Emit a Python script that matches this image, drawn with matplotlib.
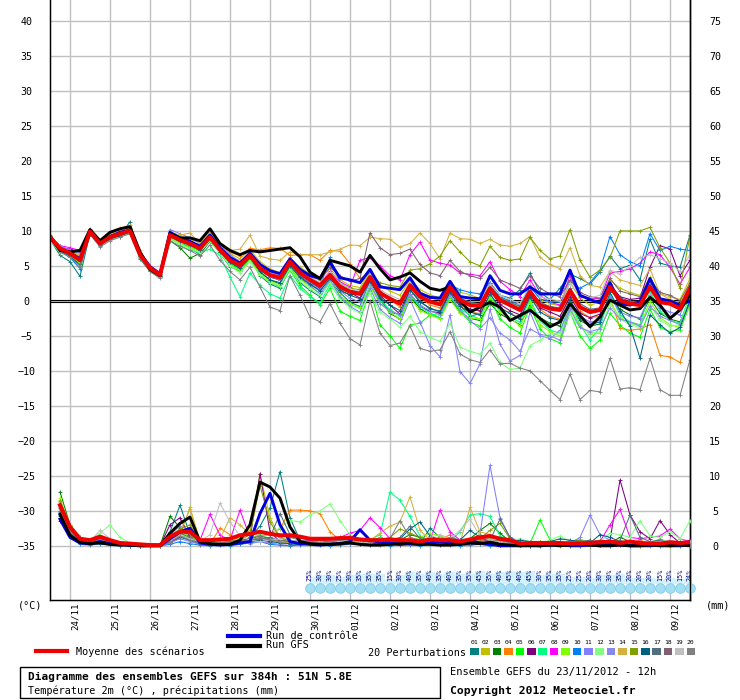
import matplotlib
matplotlib.use("Agg")
import matplotlib.pyplot as plt
from matplotlib.patches import Rectangle
import numpy as np

plt.rcParams['font.family'] = ['DejaVu Sans Mono']

# ---- data (6-hourly from 23/11/2012 12h, 65 steps) ----
dates = ['24/11', '25/11', '26/11', '27/11', '28/11', '29/11', '30/11', '01/12',
         '02/12', '03/12', '04/12', '05/12', '06/12', '07/12', '08/12', '09/12']

# temperatures 2m (degC)
t_mean = [9.1, 7.5, 6.8, 5.8, 9.9, 8.2, 9.1, 9.6, 10.0, 6.6, 4.7, 3.7, 9.4,
          8.7, 8.2, 7.5, 9.1, 7.3, 5.8, 5.1, 6.5, 4.7, 3.7, 3.3, 5.6, 4.0,
          3.0, 2.2, 3.7, 2.0, 1.3, 1.0, 3.4, 1.1, 0.3, -0.4, 2.2, 0.6, -0.1,
          -0.5, 2.0, 0.1, -0.6, -0.7, 1.8, 0.1, -0.6, -1.3, 1.3, -0.6, -1.1, -1.3,
          1.5, -0.9, -1.6, -1.3, 2.0, 0.1, -0.4, -0.6, 2.0, -0.2, -0.4, -1.1, 1.8]
t_gfs = [9.3, 7.2, 7.0, 7.2, 10.2, 8.6, 9.8, 10.3, 10.6, 7.0, 4.5, 3.6, 9.6,
         9.0, 9.0, 8.6, 10.3, 8.2, 7.2, 6.6, 7.2, 7.0, 7.2, 7.4, 7.6, 6.3,
         4.1, 3.2, 5.8, 5.4, 5.0, 4.1, 6.5, 4.6, 3.0, 3.4, 4.0, 2.8, 1.8,
         1.5, 2.0, 0.1, -1.6, -0.9, -0.2, -0.9, -2.8, -2.1, -1.3, -2.5, -3.7, -3.0,
         -0.4, -2.1, -3.7, -2.3, 0.1, -0.6, -1.3, -1.1, 0.5, -0.6, -2.5, -1.3, 0.8]
t_ctrl = [9.0, 7.4, 6.9, 6.0, 10.0, 8.3, 9.2, 9.8, 10.1, 6.8, 4.9, 3.8, 9.8,
          9.0, 8.5, 7.8, 9.4, 7.6, 6.2, 5.4, 6.8, 5.2, 4.3, 3.9, 6.0, 4.5,
          3.6, 3.2, 5.5, 3.3, 3.0, 2.6, 4.5, 2.0, 1.8, 1.6, 3.3, 1.1, 0.5,
          0.4, 2.8, 0.6, 0.4, 0.3, 3.6, 1.5, 1.0, 1.0, 2.0, 1.0, 1.0, 1.0,
          4.4, 0.8, 0.2, -0.3, 2.6, -0.4, -0.6, -0.1, 3.2, 0.3, 0.0, -0.6, 0.0]

t01 = [8.8, 6.5, 5.6, 3.5, 9.6, 7.9, 8.9, 9.4, 11.3, 6.0, 4.2, 3.4, 9.0,
       8.4, 7.6, 6.6, 8.6, 6.8, 4.9, 4.2, 6.0, 3.6, 2.4, 1.8, 4.8, 2.6,
       1.5, 0.6, 2.8, 1.2, -0.2, -0.8, 3.0, 0.5, -1.6, -2.0, 1.6, 0.0, -1.2,
       -1.4, 1.8, -0.6, -2.2, -1.8, 2.6, 0.8, 0.4, 1.6, 4.0, 1.2, 0.2, 1.8,
       3.8, 3.2, 2.4, 4.1, 6.4, 4.6, 5.1, 3.0, 8.8, 5.4, 5.0, 4.8, 9.4]
t02 = [9.3, 7.8, 7.2, 6.4, 10.1, 8.5, 9.5, 10.2, 10.4, 6.9, 5.0, 4.0, 9.9,
       9.2, 8.8, 8.3, 9.6, 8.0, 6.8, 6.0, 7.3, 5.6, 4.6, 4.0, 6.2, 4.8,
       3.9, 3.1, 4.6, 3.0, 2.2, 1.9, 4.3, 2.3, 1.4, 0.8, 3.0, 1.6, 0.9,
       0.4, 2.7, 1.2, 0.9, 0.3, 2.4, 0.6, -0.2, -0.9, 2.2, 0.2, -0.4, -0.7,
       2.6, 0.4, -0.6, -0.2, 3.0, 1.8, 1.2, 0.8, 3.4, 1.0, 0.6, 0.2, 3.2]
t03 = [8.9, 7.0, 6.4, 5.2, 9.7, 8.0, 8.8, 9.2, 9.8, 6.2, 4.4, 3.4, 8.6,
       7.6, 6.1, 6.8, 8.5, 7.0, 5.5, 4.6, 6.1, 4.1, 3.0, 2.4, 4.9, 3.2,
       2.3, 1.6, 3.4, 1.4, 0.9, 1.0, 3.1, 0.2, -1.8, -2.6, 0.6, -1.1, -2.0,
       -2.4, 0.5, -1.6, -2.5, -2.8, -0.4, -1.9, -2.6, -3.4, -0.6, -2.4, -3.2, -3.6,
       -0.2, -2.8, -3.6, -3.3, 0.6, -1.2, -2.0, -2.6, 0.4, -1.8, -2.6, -3.0, 0.2]
t04 = [9.2, 7.7, 7.1, 6.2, 10.0, 8.4, 9.3, 9.9, 10.2, 6.8, 4.9, 3.9, 9.6,
       8.9, 8.5, 8.0, 9.3, 7.9, 7.0, 6.4, 7.5, 7.3, 7.6, 7.5, 6.5, 6.6,
       6.6, 5.8, 7.2, 7.1, 5.3, 3.2, 4.0, 1.5, 0.2, -0.9, 1.8, 0.5, -0.6,
       -1.0, 1.2, -0.8, -1.6, -1.8, 0.8, -0.9, -1.8, -2.4, 0.4, -1.2, -2.2, -2.6,
       0.8, -1.5, -2.4, -2.2, 0.6, -3.9, -4.2, -4.0, -3.4, -7.8, -8.0, -8.8, -4.3]
t05 = [9.0, 7.3, 6.6, 5.4, 9.8, 8.1, 9.0, 9.5, 9.9, 6.5, 4.6, 3.6, 9.2,
       8.4, 7.8, 7.1, 8.8, 7.0, 5.3, 4.4, 5.9, 3.8, 2.6, 2.0, 4.4, 2.2,
       0.8, -0.6, 1.8, -1.5, -2.2, -2.8, 1.6, -3.4, -5.0, -6.8, -3.4, -3.2, -2.0,
       -1.8, 0.8, -1.5, -3.0, -3.6, 0.4, -2.6, -3.8, -4.6, -0.8, -4.0, -5.4, -6.0,
       -1.6, -5.0, -6.8, -5.6, -1.8, -3.5, -4.6, -5.2, -1.2, -3.8, -4.4, -4.1, -0.6]
t06 = [9.0, 7.6, 7.4, 7.0, 10.1, 8.1, 9.0, 9.6, 10.0, 6.7, 4.8, 3.8, 9.2,
       8.6, 8.0, 7.4, 8.9, 7.2, 5.9, 5.0, 6.4, 4.5, 3.4, 3.0, 5.3, 3.6,
       2.6, 1.8, 3.6, 2.4, 1.2, 0.4, 3.0, 0.8, -0.6, -1.9, 1.0, -0.8, -1.5,
       -1.7, 1.4, -0.4, -1.2, -1.4, 1.4, -0.5, -1.4, -2.0, 0.8, -1.0, -1.6, -2.2,
       0.6, -1.8, -2.4, -1.9, 2.4, 0.6, 0.2, 0.4, 4.8, 7.9, 7.4, 3.6, 5.8]
t07 = [9.1, 7.4, 6.7, 5.6, 9.7, 8.0, 8.9, 9.3, 9.6, 6.4, 4.5, 3.5, 8.9,
       8.0, 7.2, 6.9, 7.4, 6.5, 3.4, 0.6, 4.0, 2.2, 1.0, 0.4, 3.6, 1.8,
       0.6, -0.3, 2.4, 0.4, -0.5, -1.0, 2.2, 0.0, -1.2, -2.2, 0.8, -0.8, -1.8,
       -2.4, 0.6, -1.2, -2.0, -2.6, 0.9, -1.4, -2.4, -3.0, 0.2, -2.8, -4.2, -4.6,
       0.0, -3.4, -5.6, -3.8, 1.0, -2.0, -3.0, -3.4, 1.4, -1.4, -2.8, -3.2, 1.0]
t08 = [9.2, 7.9, 7.6, 7.2, 10.0, 8.3, 9.2, 9.7, 10.3, 6.9, 5.0, 4.1, 9.7,
       9.1, 8.6, 7.8, 9.3, 7.5, 6.0, 5.3, 6.8, 5.0, 4.0, 3.6, 5.8, 4.2,
       3.3, 2.6, 4.2, 2.7, 2.0, 5.8, 6.2, 5.0, 3.6, 3.0, 6.6, 8.4, 5.8,
       5.4, 5.1, 4.0, 3.8, 3.6, 5.6, 2.8, 1.6, 0.6, 3.0, 0.8, -0.2, -0.6,
       3.6, 0.6, 0.4, 0.3, 4.0, 4.2, 4.6, 5.4, 7.0, 6.6, 4.8, 2.4, 4.8]
t09 = [8.9, 7.1, 6.5, 5.5, 9.8, 8.2, 9.1, 9.4, 9.8, 6.4, 4.5, 3.5, 9.1,
       8.2, 7.6, 7.0, 8.7, 6.9, 5.1, 4.3, 5.8, 3.9, 2.8, 2.3, 4.9, 3.1,
       2.0, 1.1, 2.9, 0.8, -0.4, -1.0, 2.0, -0.4, -1.6, -2.6, 0.4, -1.4, -2.0,
       -2.6, 0.2, -1.8, -2.4, -2.6, 0.6, -1.6, -2.4, -3.6, -0.2, -3.4, -4.4, -5.0,
       -0.8, -3.6, -4.8, -4.6, -0.2, -2.4, -3.2, -3.6, 0.0, -2.4, -3.4, -3.8, -0.4]
t10 = [9.0, 7.2, 6.2, 4.6, 9.6, 8.0, 8.8, 9.4, 9.9, 6.5, 4.6, 3.6, 9.3,
       8.5, 8.1, 7.3, 9.0, 7.1, 5.6, 5.0, 6.3, 4.4, 3.4, 3.0, 5.3, 3.6,
       2.7, 2.0, 6.2, 2.6, 1.6, 1.2, 3.8, 1.4, 0.4, -0.2, 2.6, 0.9, 0.4,
       0.2, 2.3, 1.6, 1.2, 1.0, 2.6, 0.6, 0.0, -0.6, 2.0, 0.3, -0.1, -0.2,
       2.8, 1.8, 2.6, 4.4, 9.2, 6.6, 5.6, 5.0, 9.6, 7.2, 7.8, 7.4, 7.2]
t11 = [9.4, 7.8, 7.3, 6.8, 10.3, 8.3, 9.3, 9.8, 10.3, 6.8, 4.9, 3.9, 10.2,
       9.6, 9.0, 8.2, 9.7, 8.0, 6.6, 5.6, 7.0, 5.2, 4.2, 3.9, 5.4, 3.4,
       2.2, 1.0, 3.0, 0.6, -0.8, -1.6, 1.8, -1.2, -2.4, -3.2, 0.2, -3.0, -6.4,
       -8.0, -2.0, -10.1, -11.8, -9.0, -1.2, -6.2, -8.6, -7.8, -1.6, -5.0, -5.4, -4.2,
       -1.0, -2.2, -3.0, -2.8, 0.6, -1.6, -2.2, -2.4, 0.8, -1.0, -1.6, -2.0, 1.2]
t12 = [8.7, 6.9, 6.3, 5.0, 9.7, 8.0, 8.9, 9.1, 9.7, 6.3, 4.4, 3.4, 8.8,
       8.1, 7.4, 6.9, 8.6, 6.8, 5.0, 4.0, 5.6, 3.7, 2.6, 2.1, 4.6, 2.8,
       1.7, 0.8, 2.6, 0.2, -1.0, -1.8, 1.2, -1.6, -2.6, -3.8, -2.2, -4.4, -5.2,
       -5.8, -3.2, -6.6, -7.2, -7.6, -6.0, -8.8, -9.8, -9.6, -6.4, -5.6, -4.8, -4.6,
       -1.8, -3.8, -4.6, -4.4, -0.4, -2.6, -3.4, -3.8, -0.6, -2.8, -3.6, -3.4, 0.6]
t13 = [9.0, 7.3, 6.7, 5.7, 9.8, 8.1, 9.0, 9.5, 9.9, 6.5, 4.6, 3.6, 9.3,
       8.6, 8.1, 7.4, 9.0, 7.2, 5.7, 5.0, 6.4, 4.5, 3.5, 3.0, 5.4, 3.7,
       2.6, 1.6, 3.3, 1.4, 0.4, -0.2, 2.6, -0.4, -1.4, -2.0, 1.0, -0.6, -1.4,
       -2.0, 0.8, -1.2, -2.8, -4.0, -2.4, -4.6, -5.6, -7.2, -4.0, -4.8, -5.0, -5.6,
       -1.2, -3.8, -4.4, -4.0, -1.0, -2.6, -3.0, -3.6, -0.8, -2.2, -2.8, -3.4, -0.2]
t14 = [9.3, 7.7, 7.0, 6.6, 10.2, 8.5, 9.6, 10.4, 10.8, 7.2, 5.0, 4.0, 9.8,
       9.4, 9.7, 8.2, 9.8, 8.0, 7.2, 7.4, 9.4, 6.4, 6.0, 5.8, 7.0, 6.6,
       6.6, 6.6, 7.0, 7.4, 8.0, 7.9, 9.1, 8.9, 8.8, 7.7, 8.2, 9.7, 8.2,
       6.0, 9.7, 8.9, 8.8, 8.2, 8.8, 8.0, 7.8, 8.2, 9.2, 6.2, 5.2, 4.6,
       7.6, 3.6, 2.2, 2.0, 4.2, 3.0, 2.6, 2.2, 4.6, 1.0, 0.2, -0.4, 2.4]
t15 = [9.1, 7.6, 6.9, 5.9, 10.0, 8.3, 9.2, 9.7, 10.1, 6.7, 4.8, 3.8, 9.5,
       8.8, 8.3, 7.6, 9.2, 7.4, 6.0, 5.3, 6.7, 4.9, 3.9, 3.5, 5.8, 4.3,
       3.3, 2.5, 4.0, 2.4, 1.8, 1.6, 3.9, 2.6, 2.2, 2.0, 4.4, 4.6, 5.3,
       6.4, 8.6, 7.0, 5.6, 5.0, 7.8, 6.2, 5.8, 6.0, 9.1, 7.2, 6.0, 6.4,
       10.2, 5.8, 3.4, 4.4, 6.2, 10.0, 10.0, 10.0, 10.5, 7.6, 5.4, 1.8, 9.3]
t16 = [9.0, 7.2, 6.4, 5.0, 9.7, 8.0, 8.9, 9.3, 9.9, 6.4, 4.5, 3.5, 9.2,
       8.5, 8.0, 7.2, 8.9, 7.0, 5.5, 4.7, 6.2, 4.2, 3.0, 2.6, 5.0, 3.4,
       2.4, 1.4, 3.2, 1.6, 0.8, 0.3, 2.8, 0.4, -0.6, -1.4, 1.6, -0.2, -1.0,
       -1.6, 1.2, -0.8, -1.6, -2.0, 1.0, -1.0, -1.8, -2.6, 0.6, -1.6, -2.4, -2.8,
       0.2, -2.4, -3.4, -3.0, 1.2, -1.4, -3.6, -8.2, -2.0, -3.4, -4.6, -3.8, 0.0]
t17 = [9.2, 7.5, 6.9, 6.0, 10.0, 8.2, 9.1, 9.7, 10.0, 6.6, 4.7, 3.7, 9.4,
       8.8, 8.3, 7.5, 9.1, 7.3, 5.9, 5.2, 6.6, 4.8, 3.8, 3.4, 5.7, 4.1,
       3.2, 2.3, 4.0, 2.2, 1.4, 1.2, 3.6, 1.0, 0.2, -0.4, 2.4, 0.8, 0.0,
       -0.4, 2.2, 0.4, -0.2, -0.4, 2.2, 0.4, -0.2, -0.8, 1.6, -0.2, -0.8, -1.0,
       1.8, -0.4, -1.2, -1.0, 2.2, 0.4, 0.0, -0.2, 2.4, 0.2, 0.0, -0.8, 2.2]
t18 = [9.1, 7.4, 6.8, 5.8, 9.9, 8.1, 9.0, 9.5, 10.0, 6.6, 4.7, 3.7, 9.4,
       8.7, 8.1, 7.4, 9.0, 7.2, 5.8, 5.1, 6.5, 4.8, 3.9, 3.5, 5.8, 4.4,
       3.6, 3.0, 4.8, 3.6, 2.8, 3.2, 9.7, 7.6, 6.6, 6.8, 7.4, 5.2, 4.0,
       3.6, 5.8, 4.2, 3.6, 3.2, 4.8, 3.0, 2.4, 1.8, 3.6, 1.8, 1.0, 0.6,
       3.0, 1.2, 0.6, 0.4, 3.2, 1.4, 1.0, 0.6, 3.0, 1.2, 0.8, 0.0, 2.6]
t19 = [9.2, 7.6, 7.0, 6.1, 10.0, 8.4, 9.3, 9.8, 10.1, 6.8, 4.9, 3.9, 9.6,
       8.9, 8.4, 7.7, 9.2, 7.5, 6.1, 5.4, 6.8, 5.0, 4.0, 3.6, 5.9, 4.4,
       3.4, 2.6, 4.1, 2.5, 1.7, 1.4, 3.8, 1.6, 0.8, 0.2, 2.8, 1.2, 0.6,
       0.2, 2.6, 0.8, 0.4, 0.2, 2.4, 0.8, 0.2, -0.4, 2.2, 0.6, 0.2, 0.0,
       2.6, 0.8, 0.4, 0.8, 4.4, 3.8, 5.0, 6.2, 6.6, 6.0, 5.4, 4.2, 6.6]
t20 = [8.9, 7.0, 6.2, 5.0, 9.5, 7.7, 8.6, 9.1, 9.6, 6.1, 4.2, 3.2, 8.6,
       7.8, 7.2, 6.4, 8.0, 5.8, 4.2, 3.0, 4.8, 2.0, -0.9, -1.4, 3.6, 0.8,
       -2.3, -3.0, -0.4, -3.2, -5.4, -6.3, 0.0, -4.6, -6.4, -6.0, -3.6, -6.8, -7.2,
       -7.0, -4.4, -7.6, -8.4, -8.8, -7.0, -9.0, -8.9, -9.6, -10.0, -11.4, -12.8, -14.1,
       -10.5, -14.1, -12.8, -13.0, -8.2, -12.6, -12.4, -12.7, -8.2, -12.7, -13.5, -13.5, -8.4]

# 6h precipitation (mm), from +6h (64 steps)
r_mean = [5.8, 2.7, 1.0, 0.8, 1.3, 0.8, 0.4, 0.3, 0.2, 0.1, 0.1, 1.3, 2.0, 2.0, 0.8, 0.8,
          0.9, 1.0, 1.5, 1.7, 2.0, 1.7, 1.5, 1.5, 1.3, 1.0, 1.0, 1.0, 1.1, 1.1, 0.9, 0.8,
          0.8, 0.9, 0.8, 0.8, 0.6, 0.9, 0.8, 0.8, 0.6, 0.9, 1.2, 1.4, 1.0, 0.8, 0.3, 0.4,
          0.4, 0.4, 0.4, 0.3, 0.3, 0.4, 0.5, 0.6, 0.4, 0.6, 0.4, 0.3, 0.3, 0.5, 0.4, 0.5]
r_gfs = [4.5, 1.5, 0.5, 0.3, 0.4, 0.2, 0.1, 0.1, 0.0, 0.0, 0.0, 1.8, 3.2, 4.1, 0.6, 0.3,
         0.2, 0.2, 0.8, 3.0, 9.1, 8.4, 6.8, 2.7, 0.6, 0.3, 0.2, 0.2, 0.3, 0.4, 0.2, 0.1,
         0.1, 0.2, 0.3, 0.4, 0.2, 0.2, 0.1, 0.1, 0.2, 0.4, 0.3, 0.5, 0.2, 0.1, 0.0, 0.0,
         0.0, 0.1, 0.0, 0.1, 0.2, 0.1, 0.0, 0.0, 0.1, 0.0, 0.0, 0.1, 0.0, 0.0, 0.1, 0.0]
r_ctrl = [3.8, 1.2, 0.4, 0.3, 0.6, 0.3, 0.2, 0.1, 0.0, 0.0, 0.0, 1.0, 2.0, 2.5, 0.4, 0.2,
          0.1, 0.2, 0.4, 0.6, 4.6, 7.5, 3.0, 0.6, 0.3, 0.2, 0.1, 0.2, 0.3, 0.6, 2.3, 0.8,
          0.5, 0.4, 0.2, 0.3, 0.2, 0.4, 0.6, 0.3, 0.2, 0.8, 0.4, 0.2, 0.0, 0.0, 0.0, 0.1,
          0.0, 0.1, 0.2, 0.0, 0.0, 0.1, 0.0, 0.2, 0.1, 0.0, 0.0, 0.0, 0.1, 0.0, 0.0, 0.1]

r01 = [5.0, 2.2, 0.6, 0.4, 0.8, 0.5, 0.2, 0.1, 0.0, 0.0, 0.0, 2.0, 5.8, 1.6, 0.4, 0.2,
       0.3, 0.4, 0.6, 1.2, 2.8, 5.4, 10.6, 4.0, 0.8, 0.4, 0.2, 0.3, 0.6, 0.8, 0.5, 0.3,
       0.2, 0.5, 0.4, 0.8, 0.3, 2.5, 1.2, 0.5, 0.3, 0.2, 0.2, 0.1, 0.2, 0.5, 0.1, 0.0,
       0.0, 0.2, 0.1, 0.0, 0.1, 0.0, 0.5, 0.3, 0.2, 0.1, 0.0, 0.2, 0.4, 0.1, 0.0, 0.2]
r02 = [6.5, 2.8, 1.2, 0.6, 1.0, 0.6, 0.3, 0.2, 0.1, 0.0, 0.0, 0.8, 1.5, 5.5, 0.6, 0.3,
       0.4, 0.6, 1.0, 2.2, 10.3, 4.0, 1.2, 0.6, 0.4, 0.2, 0.3, 0.4, 0.2, 0.3, 0.4, 0.2,
       0.3, 0.4, 0.6, 0.3, 0.2, 0.6, 0.4, 0.2, 0.3, 0.4, 0.3, 0.2, 0.1, 0.1, 0.2, 0.0,
       0.1, 0.0, 0.0, 0.2, 0.1, 0.0, 0.1, 0.0, 0.1, 0.2, 0.0, 0.0, 0.1, 0.0, 0.1, 0.0]
r03 = [7.7, 3.0, 1.0, 0.6, 1.4, 0.8, 0.4, 0.2, 0.1, 0.0, 0.0, 4.2, 2.6, 1.2, 0.4, 0.4,
       0.3, 0.6, 0.8, 0.6, 0.9, 1.2, 0.6, 0.4, 0.3, 0.4, 0.6, 0.6, 0.8, 1.0, 0.6, 0.4,
       0.6, 1.0, 0.8, 1.6, 1.2, 0.6, 0.4, 0.3, 0.5, 1.0, 2.2, 3.2, 1.8, 0.6, 0.2, 0.3,
       0.6, 0.3, 0.2, 0.6, 0.4, 0.8, 0.3, 0.4, 1.2, 0.6, 0.4, 0.2, 0.3, 0.4, 0.2, 0.6]
r04 = [5.5, 2.4, 0.9, 0.5, 0.9, 0.4, 0.2, 0.1, 0.0, 0.0, 0.0, 0.6, 1.4, 1.0, 0.4, 0.3,
       2.5, 1.6, 0.8, 0.6, 1.2, 1.8, 2.4, 5.1, 5.1, 5.0, 4.6, 2.0, 0.8, 0.4, 0.3, 0.2,
       0.3, 0.4, 0.6, 0.3, 0.4, 0.2, 0.8, 1.6, 0.5, 0.3, 0.8, 0.4, 0.2, 0.1, 0.1, 0.2,
       0.1, 0.4, 0.2, 0.1, 0.0, 0.2, 0.6, 0.3, 0.2, 0.4, 0.8, 0.3, 0.2, 0.1, 0.4, 0.2]
r05 = [6.0, 2.6, 1.0, 0.5, 1.0, 0.6, 0.3, 0.2, 0.1, 0.0, 0.0, 1.2, 2.2, 1.4, 0.5, 0.6,
       0.8, 0.5, 0.6, 1.0, 1.6, 1.0, 0.8, 0.6, 0.4, 0.5, 0.4, 0.6, 0.8, 0.6, 0.5, 0.6,
       1.2, 0.8, 0.6, 0.5, 0.6, 1.0, 1.2, 1.0, 0.6, 0.8, 1.2, 0.8, 0.4, 0.6, 0.4, 0.3,
       3.7, 0.8, 0.4, 0.6, 0.4, 0.2, 0.3, 0.4, 0.6, 0.3, 0.2, 0.4, 1.0, 0.4, 0.3, 0.6]
r06 = [3.6, 1.8, 0.8, 0.4, 0.8, 0.4, 0.2, 0.1, 0.0, 0.0, 0.0, 3.0, 4.0, 1.2, 0.3, 0.2,
       0.2, 0.3, 0.5, 1.0, 10.3, 2.0, 0.6, 0.3, 0.2, 0.2, 0.2, 0.4, 0.3, 0.2, 0.2, 0.1,
       0.3, 0.2, 0.1, 0.2, 0.3, 0.2, 0.1, 0.2, 0.3, 0.2, 0.4, 0.2, 0.1, 0.2, 0.1, 0.0,
       0.1, 0.2, 0.1, 0.2, 0.6, 0.4, 0.2, 0.8, 9.4, 4.4, 2.0, 1.0, 3.6, 1.6, 0.4, 0.8]
r07 = [5.2, 2.0, 0.8, 0.4, 0.7, 0.3, 0.2, 0.1, 0.0, 0.0, 0.0, 0.6, 1.8, 0.8, 0.3, 0.2,
       0.3, 0.2, 0.4, 0.6, 0.8, 1.0, 0.6, 0.3, 0.2, 0.2, 0.3, 0.4, 0.3, 0.4, 0.6, 0.8,
       1.6, 7.7, 6.5, 4.2, 1.4, 0.8, 1.0, 0.6, 2.0, 4.4, 4.6, 4.2, 1.4, 0.4, 0.2, 0.2,
       0.4, 0.3, 0.2, 0.5, 0.3, 0.2, 0.1, 0.3, 0.2, 0.1, 0.4, 0.2, 0.3, 0.1, 0.2, 0.3]
r08 = [4.4, 1.6, 0.6, 0.4, 0.8, 0.4, 0.2, 0.1, 0.0, 0.0, 0.0, 0.4, 1.2, 2.0, 0.8, 4.5,
       1.5, 0.8, 5.1, 1.2, 1.0, 0.6, 0.8, 0.4, 0.6, 0.8, 0.6, 0.8, 1.2, 1.8, 2.2, 4.0,
       2.6, 1.0, 0.6, 0.4, 0.8, 0.6, 5.1, 2.0, 0.8, 0.6, 1.0, 0.6, 0.4, 0.3, 0.2, 0.2,
       0.3, 0.2, 0.4, 0.2, 0.3, 0.4, 0.6, 3.0, 5.2, 1.2, 1.0, 1.2, 1.4, 2.4, 1.0, 0.6]
r09 = [6.8, 2.8, 1.2, 0.6, 1.6, 0.6, 0.3, 0.2, 0.1, 0.0, 0.0, 0.8, 1.4, 1.8, 0.4, 0.3,
       0.4, 0.5, 0.8, 0.6, 1.0, 0.8, 0.6, 0.8, 0.6, 0.4, 0.6, 0.8, 0.6, 0.4, 0.4, 0.6,
       0.8, 0.6, 0.8, 0.6, 1.2, 1.8, 1.4, 1.0, 0.6, 1.0, 1.6, 1.0, 0.6, 0.4, 0.3, 0.4,
       0.6, 0.3, 0.4, 0.6, 1.0, 0.4, 0.3, 0.2, 0.4, 0.6, 0.3, 0.4, 0.6, 0.5, 0.3, 0.4]
r10 = [4.8, 1.4, 0.2, 0.1, 0.3, 0.1, 0.0, 0.0, 0.0, 0.0, 0.0, 0.2, 0.6, 0.3, 0.1, 0.0,
       0.1, 0.0, 0.2, 0.4, 0.6, 0.2, 0.1, 0.0, 0.1, 0.2, 0.1, 0.0, 0.1, 0.2, 0.4, 0.2,
       0.1, 0.0, 0.2, 0.1, 0.0, 0.2, 0.3, 0.1, 0.0, 0.1, 0.2, 0.0, 0.1, 0.6, 0.2, 0.0,
       0.1, 0.0, 0.2, 0.1, 0.0, 0.2, 0.1, 0.0, 0.1, 0.0, 0.2, 0.1, 0.0, 0.1, 0.2, 0.0]
r11 = [5.6, 2.4, 0.8, 0.5, 1.2, 0.6, 0.3, 0.1, 0.0, 0.0, 0.0, 1.6, 2.8, 2.2, 0.6, 0.4,
       0.6, 0.4, 0.6, 0.8, 1.0, 1.2, 0.8, 0.6, 0.8, 0.6, 0.4, 0.8, 1.0, 0.6, 0.8, 0.6,
       0.4, 0.6, 1.0, 0.8, 0.6, 0.4, 0.8, 0.6, 0.4, 0.6, 1.6, 11.5, 4.0, 1.2, 0.6, 0.4,
       0.3, 0.2, 0.4, 0.3, 1.2, 4.4, 1.6, 0.8, 0.4, 0.6, 0.4, 0.3, 0.4, 0.8, 0.3, 0.6]
r12 = [5.8, 2.4, 1.0, 0.6, 1.8, 3.0, 1.2, 0.4, 0.2, 0.0, 0.0, 0.8, 1.6, 1.2, 0.6, 0.4,
       0.6, 0.8, 1.0, 0.8, 1.2, 1.6, 2.6, 3.6, 3.4, 4.4, 5.0, 6.0, 3.6, 1.6, 1.0, 0.8,
       0.6, 0.8, 1.0, 0.6, 0.4, 0.3, 0.6, 0.8, 0.6, 1.0, 0.6, 0.4, 0.6, 0.8, 1.0, 0.6,
       0.4, 0.8, 1.4, 0.6, 0.4, 0.3, 0.6, 1.8, 1.6, 1.2, 3.6, 1.4, 1.2, 2.0, 1.0, 3.6]
r13 = [4.0, 1.6, 0.6, 0.3, 0.6, 0.3, 0.1, 0.0, 0.0, 0.0, 0.0, 0.4, 1.0, 0.6, 0.2, 0.2,
       0.3, 0.2, 0.4, 0.3, 0.6, 0.4, 0.2, 0.3, 0.2, 0.4, 0.3, 0.2, 0.4, 0.3, 0.2, 0.4,
       0.3, 0.5, 0.4, 0.6, 0.4, 0.2, 0.4, 0.3, 0.6, 0.4, 0.3, 0.5, 0.4, 0.2, 0.1, 0.2,
       0.3, 0.2, 0.1, 0.2, 0.4, 0.2, 0.3, 0.2, 0.1, 0.2, 0.3, 0.1, 0.2, 0.3, 0.2, 0.1]
r14 = [6.2, 2.6, 1.0, 0.5, 0.9, 0.5, 0.3, 0.2, 0.1, 0.0, 0.0, 0.8, 2.0, 5.2, 0.6, 0.4,
       1.0, 4.0, 3.0, 1.6, 0.8, 1.0, 0.6, 0.4, 0.4, 0.3, 0.2, 0.4, 0.6, 0.4, 0.6, 0.8,
       1.8, 2.8, 3.4, 7.0, 2.2, 0.8, 1.0, 0.6, 0.4, 5.5, 2.0, 1.6, 0.6, 0.4, 0.3, 0.2,
       0.4, 0.3, 0.2, 0.4, 0.6, 0.3, 0.2, 0.4, 0.3, 0.2, 0.4, 0.3, 0.2, 0.4, 0.3, 0.2]
r15 = [6.4, 2.8, 1.2, 0.6, 1.0, 0.6, 0.3, 0.2, 0.1, 0.0, 0.0, 1.4, 2.4, 3.0, 0.6, 0.4,
       0.4, 0.6, 0.8, 1.6, 8.6, 3.4, 1.2, 0.6, 0.4, 0.3, 0.4, 0.6, 0.5, 0.8, 0.6, 0.4,
       0.8, 1.2, 2.4, 1.8, 1.2, 0.8, 0.6, 0.4, 0.6, 0.8, 1.0, 2.2, 3.2, 1.0, 0.4, 0.3,
       0.6, 0.4, 0.3, 0.6, 0.8, 0.4, 0.3, 0.6, 0.5, 0.4, 0.3, 0.6, 0.4, 0.2, 0.4, 0.3]
r16 = [4.2, 1.6, 0.6, 0.3, 0.6, 0.2, 0.1, 0.0, 0.0, 0.0, 0.0, 0.6, 1.2, 0.8, 0.3, 0.2,
       0.2, 0.3, 0.4, 0.6, 0.8, 0.6, 0.4, 0.3, 0.2, 0.2, 0.3, 0.4, 0.3, 0.4, 0.2, 0.3,
       0.4, 0.6, 1.0, 2.4, 3.4, 1.4, 0.8, 0.4, 0.8, 2.2, 1.2, 0.6, 0.4, 0.6, 0.8, 0.6,
       0.4, 0.6, 1.0, 0.8, 0.6, 0.4, 1.6, 1.2, 0.6, 0.4, 0.2, 0.4, 0.6, 0.3, 0.2, 0.4]
r17 = [4.6, 1.8, 0.7, 0.4, 0.8, 0.4, 0.2, 0.1, 0.0, 0.0, 0.0, 0.6, 1.4, 1.0, 0.4, 0.3,
       0.3, 0.4, 0.6, 0.8, 1.0, 1.2, 4.6, 1.6, 0.8, 0.4, 0.3, 0.6, 0.8, 1.4, 0.6, 0.4,
       0.6, 0.8, 1.2, 2.8, 1.0, 0.6, 0.4, 1.2, 0.8, 0.6, 1.6, 0.8, 3.8, 1.2, 0.4, 0.3,
       0.4, 0.6, 0.3, 0.4, 0.6, 0.8, 0.4, 0.6, 0.8, 4.4, 1.2, 0.6, 0.8, 0.4, 0.6, 0.4]
r18 = [5.4, 2.2, 0.8, 0.4, 1.0, 0.6, 0.3, 0.2, 0.1, 0.0, 0.0, 0.6, 1.8, 1.2, 0.4, 0.3,
       0.4, 0.6, 0.8, 1.0, 1.4, 1.0, 0.8, 0.6, 0.4, 0.6, 0.8, 0.6, 0.4, 0.6, 0.8, 0.6,
       0.4, 0.6, 0.8, 0.6, 0.4, 0.6, 0.8, 1.0, 0.6, 0.4, 0.6, 0.8, 0.6, 0.4, 0.2, 0.3,
       0.4, 0.6, 0.3, 0.2, 0.4, 0.6, 0.8, 0.6, 0.4, 0.3, 0.6, 0.4, 0.3, 0.2, 0.4, 0.3]
r19 = [5.9, 2.9, 1.2, 0.6, 2.2, 1.0, 0.4, 0.2, 0.1, 0.0, 0.0, 0.8, 1.4, 1.0, 0.6, 1.6,
       6.1, 3.4, 1.4, 0.8, 0.6, 0.8, 1.0, 0.8, 0.6, 1.2, 1.0, 0.8, 0.6, 0.8, 0.6, 0.4,
       0.6, 0.8, 0.6, 0.4, 0.6, 1.2, 1.6, 1.0, 2.2, 3.8, 1.4, 0.8, 0.6, 0.4, 0.3, 0.4,
       0.3, 0.4, 0.6, 0.4, 0.3, 0.2, 0.4, 0.6, 0.4, 0.3, 0.6, 0.4, 0.6, 0.8, 0.4, 0.6]
r20 = [5.0, 2.0, 0.8, 0.4, 0.8, 0.4, 0.2, 0.1, 0.0, 0.0, 0.0, 0.5, 1.4, 0.8, 0.3, 0.2,
       0.3, 0.4, 0.6, 0.8, 1.2, 0.8, 0.6, 1.2, 0.8, 0.6, 0.4, 0.6, 0.8, 1.0, 0.8, 0.6,
       0.6, 1.0, 3.6, 1.2, 0.8, 0.6, 0.8, 1.2, 0.8, 0.6, 0.4, 0.6, 0.8, 0.4, 0.3, 0.2,
       0.2, 0.3, 0.4, 0.6, 0.4, 0.3, 0.2, 0.4, 0.3, 0.2, 0.3, 0.4, 0.3, 0.2, 0.4, 0.3]

# probability row (from 30/11 00h to the end)
pct = [25, 30, 30, 25, 30, 35, 35, 35, 15, 30, 40, 35, 40, 35, 40, 35, 35, 45, 35, 40,
       45, 40, 45, 30, 35, 35, 25, 25, 20, 30, 30, 35, 20, 20, 20, 15, 20, 15, 24]

pert_colors = ['#008080', '#c0c000', '#008000', '#ff8000', '#00ff00', '#800080',
               '#00ff80', '#ff00ff', '#80ff00', '#0080ff', '#8080ff', '#80ff80',
               '#8888ee', '#d4b040', '#80a000', '#006080', '#507080', '#806070',
               '#c0c0c0', '#808080']

t_perts = [t01, t02, t03, t04, t05, t06, t07, t08, t09, t10,
           t11, t12, t13, t14, t15, t16, t17, t18, t19, t20]
r_perts = [r01, r02, r03, r04, r05, r06, r07, r08, r09, r10,
           r11, r12, r13, r14, r15, r16, r17, r18, r19, r20]

# ---- figure ----
W, H = 740, 700
fig = plt.figure(figsize=(W / 100, H / 100), dpi=100)
ax = fig.add_axes([50 / W, 100 / H, 640 / W, 600 / H])
YMIN, YMAX = -42.75, 43.0
ax.set_xlim(0, 64)
ax.set_ylim(YMIN, YMAX)

xt = np.arange(65)
xr = np.arange(1, 65)
xp = np.arange(65 - len(pct), 65)

# grid (no line below -35)
ax.set_xticks(np.arange(2, 64, 4))
ax.set_xticklabels([])
ax.set_yticks(np.arange(-35, 45, 5))
ax.tick_params(axis='both', length=0)
ax.tick_params(axis='y', pad=17, labelsize=7.2)
ax.grid(True, color='#c0c0c0', lw=1.0, zorder=0)
ax.set_axisbelow(True)
for lab in ax.get_yticklabels():
    lab.set_horizontalalignment('center')
ax.set_xticks(np.arange(2, 64, 4) + 0.5, minor=True)
ax.set_xticklabels(dates, minor=True, rotation=90, fontsize=6.6, va='top')
ax.tick_params(axis='x', which='minor', length=0, pad=2)
ax.spines['top'].set_visible(False)
for s in ['left', 'right', 'bottom']:
    ax.spines[s].set_linewidth(1.0)

# zero line (double)
ax.axhline(0.15, color='black', lw=0.8, zorder=2)
ax.axhline(-0.2, color='black', lw=0.8, zorder=2)

# temperatures
for ser, c in zip(t_perts, pert_colors):
    ax.plot(xt, ser, color=c, lw=0.75, marker='+', ms=2.3, mew=0.6, zorder=3)
ax.plot(xt, t_ctrl, color='#0000dd', lw=2.1, zorder=4)
ax.plot(xt, t_gfs, color='black', lw=2.1, zorder=4)
ax.plot(xt, t_mean, color='#ee0000', lw=2.9, zorder=5)

# probability row
base = -40.4
ax.fill_between(xp, base, base + np.array(pct) * 0.04, step='mid',
                color='#d2f3fb', lw=0, zorder=2)
ax.scatter(xp, np.full(len(xp), -41.05), s=48, facecolor='#a4def3',
           edgecolor='#7ccbec', lw=0.6, zorder=3, clip_on=False)
for xi, p in zip(xp, pct):
    ax.text(xi, -39.1, f'{p}%', rotation=90, ha='center', va='center',
            fontsize=4.9, color='#000080', zorder=4)

# precipitation on the mm axis
ax2 = ax.twinx()
ax2.set_ylim(YMIN + 35, YMAX + 35)
ax2.set_yticks(np.arange(0, 80, 5))
ax2.tick_params(axis='y', length=0, pad=18, labelsize=7.2)
for lab in ax2.get_yticklabels():
    lab.set_horizontalalignment('center')
ax2.spines['top'].set_visible(False)
ax2.spines['right'].set_linewidth(1.0)
for ser, c in zip(r_perts, pert_colors):
    ax2.plot(xr, ser, color=c, lw=0.75, marker='+', ms=2.3, mew=0.6, zorder=3)
ax2.plot(xr, r_ctrl, color='#0000dd', lw=2.1, zorder=4)
ax2.plot(xr, r_gfs, color='black', lw=2.1, zorder=4)
ax2.plot(xr, r_mean, color='#ee0000', lw=2.9, zorder=5)

# ---- text and legend, in pixel coordinates ----
lax = fig.add_axes([0, 0, 1, 1], zorder=-1)
lax.set_xlim(0, W)
lax.set_ylim(H, 0)
lax.axis('off')

fs = 7.3
lax.text(60, 211, 'Températures 2m', fontsize=fs, va='center')
lax.text(60, 484, 'Précipitations', fontsize=fs, va='center')
lax.text(30, 606, '(°C)', fontsize=fs, ha='center', va='center')
lax.text(718, 606, '(mm)', fontsize=fs, ha='center', va='center')

lax.plot([36, 67], [651, 651], color='#ee0000', lw=3.0)
lax.text(76, 652, 'Moyenne des scénarios', fontsize=fs, va='center')
lax.plot([228, 260], [636, 636], color='#0000dd', lw=3.0)
lax.text(266, 636, 'Run de contrôle', fontsize=fs, va='center')
lax.plot([228, 260], [646, 646], color='black', lw=3.0)
lax.text(266, 645, 'Run GFS', fontsize=fs, va='center')
lax.text(466, 653, '20 Perturbations', fontsize=fs, ha='right', va='center')
for k, c in enumerate(pert_colors):
    x0 = 470 + 11.4 * k
    lax.add_patch(Rectangle((x0, 648), 8.6, 7, color=c, lw=0))
    lax.text(x0 + 4.3, 642, f'{k + 1:02d}', fontsize=4.6, ha='center', va='center')

lax.add_patch(Rectangle((20, 667), 420, 31, fill=False, ec='black', lw=1.0))
lax.text(28, 677, 'Diagramme des ensembles GEFS sur 384h : 51N 5.8E',
         fontsize=8.0, fontweight='bold', va='center')
lax.text(28, 691, 'Température 2m (°C) , précipitations (mm)', fontsize=fs, va='center')
lax.text(450, 672, 'Ensemble GEFS du 23/11/2012 - 12h', fontsize=7.5, va='center')
lax.text(450, 691, 'Copyright 2012 Meteociel.fr', fontsize=8.2, fontweight='bold',
         va='center')

fig.savefig('out.png', dpi=100, facecolor='white')
